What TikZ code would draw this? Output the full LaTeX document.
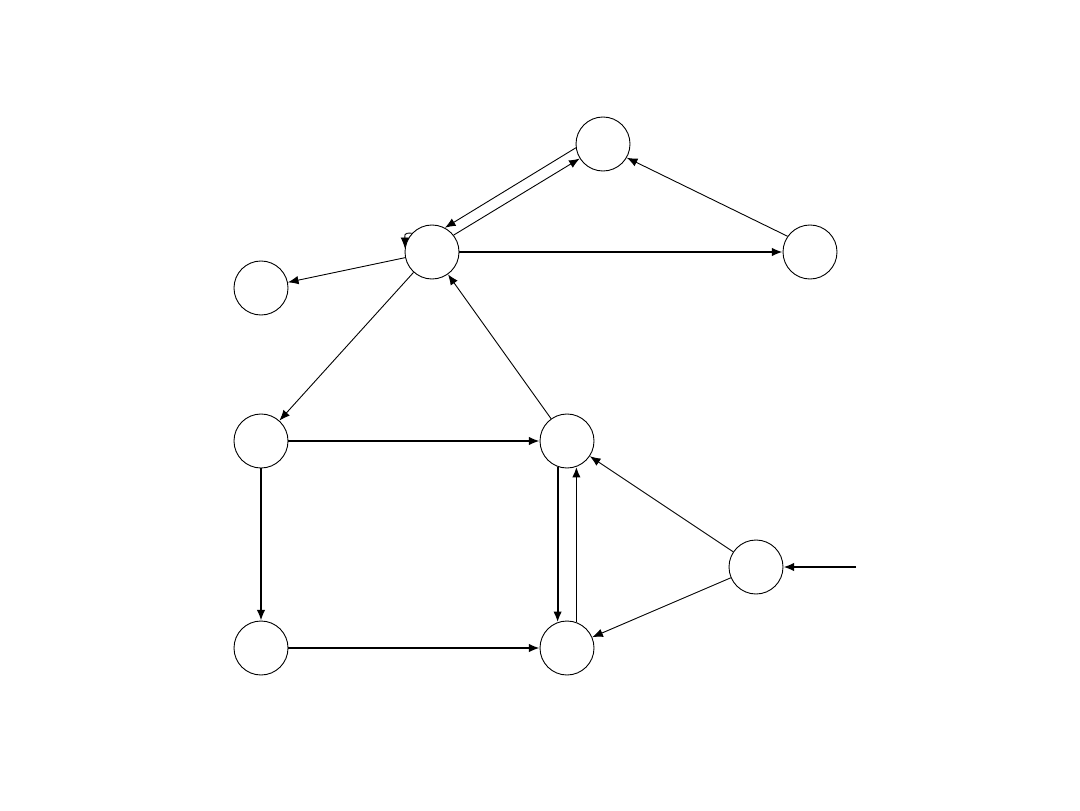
\documentclass[tikz,border=0pt]{standalone}
\usepackage{tikz}
\usetikzlibrary{arrows.meta}

\begin{document}
\begin{tikzpicture}[x=0.02352cm, y=0.02352cm]
				\useasboundingbox (0,0) rectangle (1080,-810);
				\tikzstyle{every node}=[draw, shape=circle, minimum size=1.27cm, inner sep=0pt, line width=0.6pt];
				\tikzstyle{thin edge}=[line width=0.6pt, -{Latex[length=2.5mm,width=2mm]}];
				\tikzstyle{thick edge}=[line width=1.2pt, -{Latex[length=2.5mm,width=2mm]}];
				\node (top) at (603,-144) {};
				\node (hub) at (432,-252) {};
				\node (right) at (810,-252) {};
				\node (left) at (261,-288) {};
				\node (ml) at (261,-441) {};
				\node (mr) at (567,-441) {};
				\node (start) at (756,-567) {};
				\node (bl) at (261,-648) {};
				\node (br) at (567,-648) {};
				\coordinate (entry) at (856,-567);
				\draw[thin edge] (top.188) -- (hub.62);
				\draw[thin edge] (hub.38) -- (top.212);
				\draw[thin edge] (right.145) -- (top.-30);
				\draw[thick edge] (hub) -- (right);
				\draw[thin edge] (hub) -- (left);
				\draw[thin edge] (hub) -- (ml);
				\draw[thin edge] (mr) -- (hub);
				\draw[thin edge] (hub.137) .. controls +(-9,1) and +(0,12) .. (hub.172);
				\draw[thick edge] (ml) -- (mr);
				\draw[thick edge] (ml) -- (bl);
				\draw[thick edge] (bl) -- (br);
				\draw[thick edge] (mr.250) -- (br.110);
				\draw[thick edge] (br.70) -- (mr.290);
				\draw[thin edge] (start) -- (mr);
				\draw[thin edge] (start) -- (br);
				\draw[thick edge] (entry) -- (start);
			\end{tikzpicture}
\end{document}
